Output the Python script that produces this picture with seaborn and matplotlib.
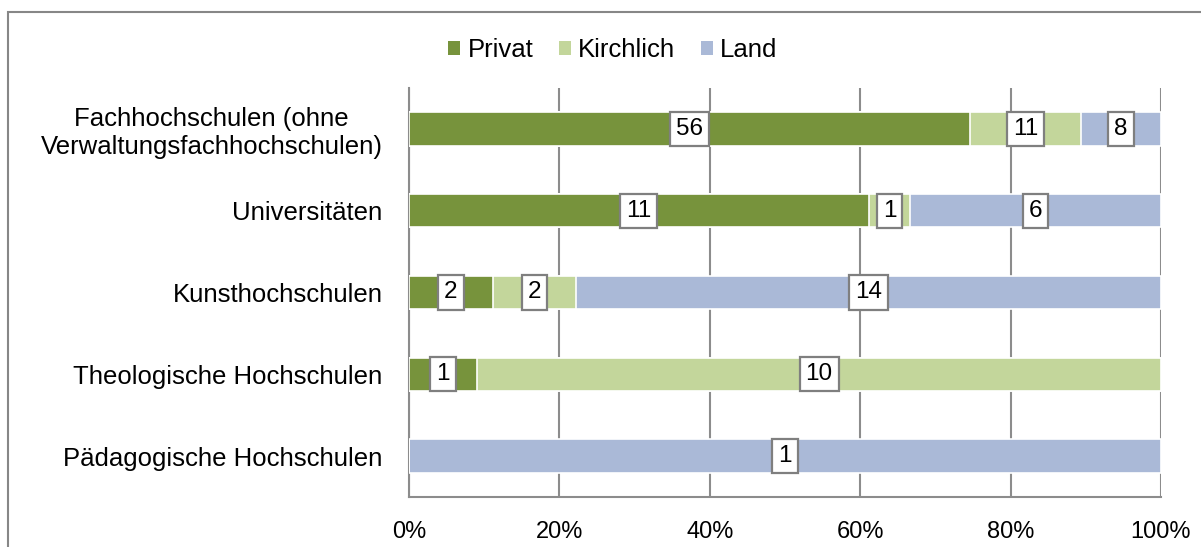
import numpy as np
import pandas as pd
import matplotlib.pyplot as plt
import seaborn as sns
from matplotlib.patches import Patch, Rectangle

categories = ["Fachhochschulen (ohne\nVerwaltungsfachhochschulen)", "Universitäten",
              "Kunsthochschulen", "Theologische Hochschulen", "Pädagogische Hochschulen"]
privat = [56, 11, 2, 1, 0]
kirchlich = [11, 1, 2, 10, 0]
land = [8, 6, 14, 0, 1]
series = ["Privat", "Kirchlich", "Land"]
colors = ["#77933C", "#C3D69B", "#AAB9D7"]
xticks = [0, 20, 40, 60, 80, 100]

df = pd.DataFrame({"Kategorie": categories, "Privat": privat,
                   "Kirchlich": kirchlich, "Land": land})
total = df[series].sum(axis=1)
pct = df[series].div(total, axis=0) * 100
cum = pct.cumsum(axis=1)

sns.set_style("white")
plt.rcParams['font.family'] = ['Liberation Sans', 'DejaVu Sans']
plt.rcParams['text.color'] = 'black'
plt.rcParams['xtick.labelcolor'] = 'black'
plt.rcParams['ytick.labelcolor'] = 'black'

fig = plt.figure(figsize=(12.01, 5.47), dpi=100)
ax = fig.add_axes([409/1201, 1-497/547, (1161-409)/1201, (497-88)/547])

# stacked bars drawn as overlapping cumulative bars, widest first
for s, c in reversed(list(zip(series, colors))):
    sns.barplot(x=cum[s], y=df["Kategorie"], orient="h", color=c, saturation=1,
                width=0.41, edgecolor="white", linewidth=1.2, ax=ax, zorder=3)

# value labels in boxes
for i in range(len(categories)):
    for s in series:
        v = df.loc[i, s]
        if v == 0:
            continue
        xc = cum.loc[i, s] - pct.loc[i, s] / 2
        ax.text(xc, i, str(v), ha="center", va="center", fontsize=17.5, zorder=5,
                color="black",
                bbox=dict(boxstyle="square,pad=0.25", fc="white", ec="#7F7F7F", lw=1.6))

ax.set_xlim(0, 100)
ax.set_ylim(4.5, -0.5)
ax.set_xticks(xticks)
ax.set_xticklabels([f"{t}%" for t in xticks], fontsize=17)
ax.tick_params(axis="x", length=7, width=1.5, color="#8C8C8C", pad=10, direction="out")
ax.tick_params(axis="y", which="major", length=0, pad=19, labelsize=18.5)
ax.set_yticks(np.arange(-0.5, 5), minor=True)
ax.tick_params(axis="y", which="minor", length=7, width=1.5, color="#8C8C8C", direction="out")
for lab in ax.get_yticklabels():
    lab.set_multialignment("center")
ax.set_xlabel("")
ax.set_ylabel("")
ax.xaxis.grid(True, color="#8C8C8C", linewidth=1.5, zorder=0)
ax.set_axisbelow(True)
for side in ["top", "right"]:
    ax.spines[side].set_visible(False)
for side in ["left", "bottom"]:
    ax.spines[side].set_color("#8C8C8C")
    ax.spines[side].set_linewidth(1.5)

handles = [Patch(facecolor=c, edgecolor="none") for c in colors]
fig.legend(handles, series, loc="center", bbox_to_anchor=(613/1201, 1-50/547), ncol=3,
           frameon=False, fontsize=18.5, handlelength=0.45, handleheight=0.45,
           handletextpad=0.3, columnspacing=1.0)

fig.patches.append(Rectangle((8/1201, -0.1), 1.2, 1.1 - 12/547,
                             transform=fig.transFigure, fill=False,
                             edgecolor="#878787", linewidth=1.5, clip_on=False))

fig.savefig("out.png", dpi=100)
